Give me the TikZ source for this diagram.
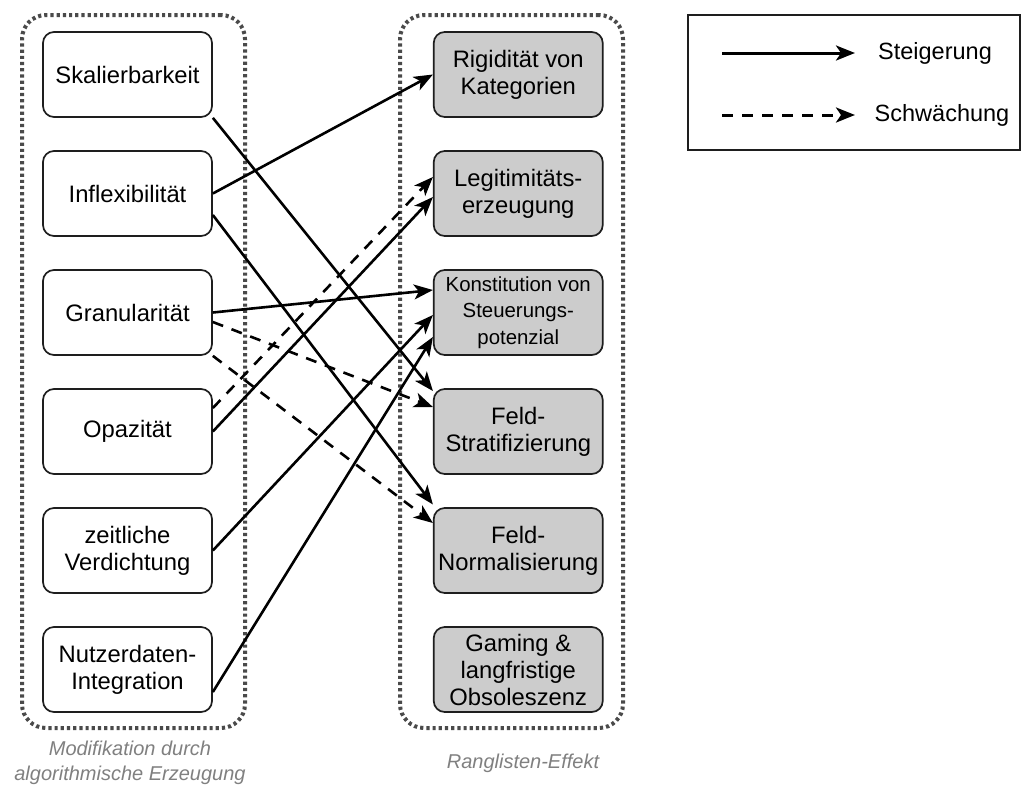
\documentclass[tikz,border=0pt]{standalone}
\usepackage{fontspec}
\setmainfont{Liberation Sans}
\usetikzlibrary{arrows.meta}
\definecolor{boxgray}{HTML}{CCCCCC}
\definecolor{framegray}{HTML}{4A4A4A}
\definecolor{captiongray}{HTML}{808080}
\definecolor{edgecol}{HTML}{1E1E1E}
\tikzset{
  lbox/.style={draw=edgecol, line width=1.7pt, rounded corners=11pt, fill=white,
    minimum width=169pt, minimum height=85pt, align=center, inner sep=0pt,
    font=\fontsize{23.8}{27}\selectfont},
  rbox/.style={lbox, fill=boxgray},
  container/.style={draw=framegray, line width=4pt, dash pattern=on 3.2pt off 3pt,
    rounded corners=24pt, minimum width=223pt, minimum height=713pt, inner sep=0pt},
  conn/.style={line width=2.6pt, draw=black, -{Stealth[length=19pt,width=15pt,inset=5pt]}},
  weak/.style={conn, dash pattern=on 11pt off 9pt},
  legtext/.style={font=\fontsize{23.5}{27}\selectfont, inner sep=0pt},
  caption/.style={font=\fontsize{20}{25}\selectfont\itshape, text=captiongray, align=center, inner sep=0pt}
}
\begin{document}
\begin{tikzpicture}[x=1pt,y=-1pt]
\useasboundingbox (0,0) rectangle (1022,785);
\fill[white] (0,0) rectangle (1022,785);

% containers
\node[container] (CL) at (133.5,371.5) {};
\node[container] (CR) at (511.5,371.5) {};

% left boxes
\node[lbox] (L1) at (127.5,74.5) {Skalierbarkeit};
\node[lbox] (L2) at (127.5,193.5) {Inflexibilität};
\node[lbox] (L3) at (127.5,312.5) {Granularität};
\node[lbox] (L4) at (127.5,431.5) {Opazität};
\node[lbox] (L5) at (127.5,550.5) {zeitliche\\Verdichtung};
\node[lbox] (L6) at (127.5,669.5) {Nutzerdaten-\\Integration};

% right boxes
\node[rbox] (R1) at (518.25,74.5) {Rigidität von\\Kategorien};
\node[rbox] (R2) at (518.25,193.5) {Legitimitäts-\\erzeugung};
\node[rbox, font=\fontsize{20.4}{26.7}\selectfont] (R3) at (518.25,312.5) {Konstitution von\\Steuerungs-\\potenzial};
\node[rbox] (R4) at (518.25,431.5) {Feld-\\Stratifizierung};
\node[rbox] (R5) at (518.25,550.5) {Feld-\\Normalisierung};
\node[rbox] (R6) at (518.25,669.5) {Gaming \&\\langfristige\\Obsoleszenz};

% captions
\node[caption] (CAPL) at (130,762.5) {Modifikation durch\\algorithmische Erzeugung};
\node[caption] (CAPR) at (523,763) {Ranglisten-Effekt};

% connectors
\draw[conn] (L1.south east) -- ([yshift=40.5pt]R4.west);
\draw[conn] (L2.east) -- (R1.west);
\draw[conn] ([yshift=-21.5pt]L2.east) -- ([yshift=46pt]R5.west);
\draw[conn] (L3.east) -- ([yshift=22.5pt]R3.west);
\draw[weak] ([yshift=-9.5pt]L3.east) -- ([yshift=24.5pt]R4.west);
\draw[weak] (L3.south east) -- ([yshift=27.5pt]R5.west);
\draw[weak] ([yshift=23.5pt]L4.east) -- ([yshift=16.5pt]R2.west);
\draw[conn] (L4.east) -- ([yshift=-3.5pt]R2.west);
\draw[conn] (L5.east) -- ([yshift=-2.5pt]R3.west);
\draw[conn] ([yshift=-22.5pt]L6.east) -- ([yshift=-24.5pt]R3.west);

% legend
\node[draw=edgecol, line width=1.7pt, minimum width=332pt, minimum height=135pt, inner sep=0pt] (LEG) at (854,82.5) {};
\coordinate (S1) at (722,53);
\coordinate (E1) at (855,53);
\coordinate (S2) at (722,115);
\coordinate (E2) at (855,115);
\draw[conn, line width=3pt] (S1) -- (E1);
\draw[weak, line width=3pt] (S2) -- (E2);
\node[legtext] (T1) at (935,53) {Steigerung};
\node[legtext] (T2) at (942,115) {Schwächung};
\end{tikzpicture}
\end{document}
